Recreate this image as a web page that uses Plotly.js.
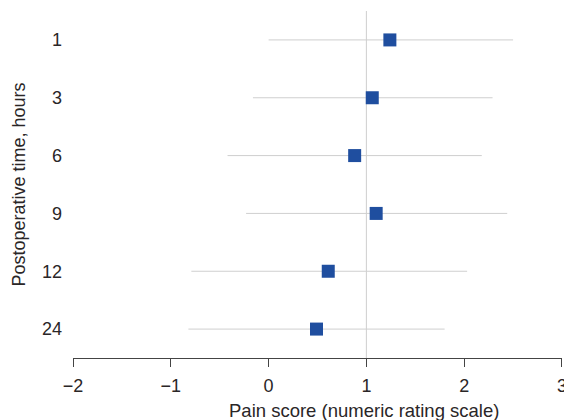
<!DOCTYPE html>
<html>
<head>
<meta charset="utf-8">
<script src="https://cdn.plot.ly/plotly-3.0.1.min.js"></script>
<style>html,body{margin:0;padding:0;background:#fff;}#chart{width:564px;height:420px;}</style>
</head>
<body>
<div id="chart"></div>
<script>
const hours = ["1", "3", "6", "9", "12", "24"];
const meanScore = [1.24, 1.06, 0.88, 1.10, 0.61, 0.49];
const lowerCI = [0.00, -0.16, -0.42, -0.23, -0.79, -0.82];
const upperCI = [2.50, 2.29, 2.18, 2.44, 2.03, 1.80];
const xTicks = [-2, -1, 0, 1, 2, 3];
const xTitle = "Pain score (numeric rating scale)";
const yTitle = "Postoperative time, hours";

const errPlus = meanScore.map((m, i) => upperCI[i] - m);
const errMinus = meanScore.map((m, i) => m - lowerCI[i]);

const trace = {
  type: "scatter",
  mode: "markers",
  x: meanScore,
  y: hours,
  marker: { symbol: "square", size: 13, color: "#1f4e9f" },
  error_x: {
    type: "data",
    symmetric: false,
    array: errPlus,
    arrayminus: errMinus,
    color: "#cfcfcf",
    thickness: 1,
    width: 0
  },
  cliponaxis: false,
  hoverinfo: "x+y"
};

const font = { family: "Liberation Sans, Arial, Helvetica, sans-serif", size: 18, color: "#2a2627" };

const layout = {
  width: 564,
  height: 420,
  margin: { l: 73, r: 2, t: 11, b: 62 },
  paper_bgcolor: "#ffffff",
  plot_bgcolor: "#ffffff",
  showlegend: false,
  font: font,
  xaxis: {
    range: [-2, 3.0001],
    tickvals: xTicks,
    ticks: "outside",
    ticklen: 8,
    tickcolor: "#444",
    tickwidth: 1,
    showline: true,
    linecolor: "#444",
    linewidth: 1,
    showgrid: false,
    zeroline: false,
    ticklabeloverflow: "allow",
    ticklabelstandoff: 3,
    tickfont: font
  },
  yaxis: {
    type: "category",
    categoryorder: "array",
    categoryarray: hours,
    range: [5.5, -0.5],
    showline: false,
    showgrid: false,
    zeroline: false,
    ticks: "",
    ticklabelstandoff: 10,
    tickfont: font,
    title: { text: yTitle, font: font, standoff: 11 }
  },
  annotations: [{
    text: xTitle,
    xref: "paper",
    yref: "paper",
    x: 0.595,
    y: -0.150,
    xanchor: "center",
    yanchor: "middle",
    showarrow: false,
    font: { family: font.family, size: 18.5, color: font.color }
  }],
  shapes: [{
    type: "line",
    xref: "x",
    yref: "paper",
    x0: 1, x1: 1, y0: 0, y1: 1,
    line: { color: "#cfcfcf", width: 1 },
    layer: "below"
  }]
};

Plotly.newPlot("chart", [trace], layout, { displayModeBar: false, staticPlot: true });
</script>
</body>
</html>
